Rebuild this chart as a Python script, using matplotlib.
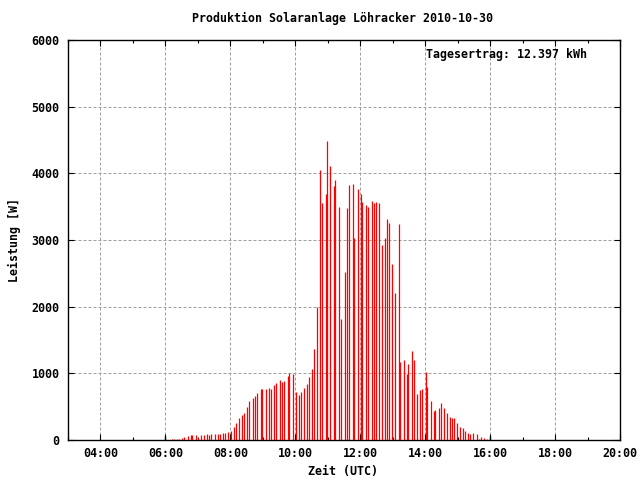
import matplotlib
matplotlib.use('Agg')
import matplotlib.pyplot as plt
from matplotlib.ticker import MultipleLocator, FuncFormatter

# Leistungsmessungen (Uhrzeit UTC, Leistung in W)
zeiten = [
    "06:12", "06:15", "06:21", "06:26", "06:30", "06:35", "06:41", "06:47", "06:50", "06:56",
    "07:01", "07:05", "07:11", "07:16", "07:20", "07:25", "07:31", "07:37", "07:40", "07:46",
    "07:50", "07:55", "08:01", "08:06", "08:10", "08:16", "08:21", "08:26", "08:30", "08:35",
    "08:41", "08:45", "08:50", "08:56", "08:59", "09:05", "09:11", "09:16", "09:20", "09:25",
    "09:31", "09:35", "09:40", "09:46", "09:49", "09:55", "10:01", "10:06", "10:10", "10:16",
    "10:21", "10:25", "10:30", "10:35", "10:40", "10:45", "10:50", "10:56", "10:59", "11:05",
    "11:11", "11:14", "11:20", "11:25", "11:31", "11:35", "11:40", "11:46", "11:49", "11:55",
    "12:01", "12:04", "12:10", "12:15", "12:21", "12:25", "12:30", "12:35", "12:40", "12:45",
    "12:50", "12:54", "12:59", "13:05", "13:11", "13:14", "13:20", "13:26", "13:29", "13:35",
    "13:40", "13:44", "13:50", "13:55", "14:01", "14:04", "14:10", "14:16", "14:19", "14:25",
    "14:30", "14:34", "14:40", "14:45", "14:50", "14:54", "14:59", "15:05", "15:09", "15:14",
    "15:20", "15:23", "15:29", "15:35", "15:40", "15:44", "15:49", "15:55",
]
leistung = [
    15, 15, 15, 15, 30, 45, 60, 75, 75, 75,
    30, 75, 75, 90, 75, 90, 90, 90, 90, 105,
    105, 120, 135, 195, 255, 330, 375, 405, 495, 585,
    630, 660, 705, 765, 765, 765, 780, 765, 825, 855,
    900, 870, 885, 960, 1005, 990, 720, 675, 720, 780,
    840, 945, 1065, 1365, 1995, 4050, 3555, 3690, 4485, 4110,
    3810, 3900, 3495, 1815, 2520, 3480, 3825, 3840, 3030, 3765,
    3690, 3570, 3525, 3495, 3585, 3555, 3570, 3555, 2925, 3030,
    3315, 3255, 2640, 2205, 3240, 1170, 1200, 990, 1140, 1335,
    1200, 690, 750, 765, 1020, 795, 585, 435, 450, 480,
    555, 480, 405, 345, 330, 330, 255, 195, 180, 135,
    105, 90, 105, 90, 15, 45, 30, 15,
]
# Markierungen Beginn / Ende
marker_zeiten = ["06:00", "16:00"]
marker_werte = [60, 60]

titel = "Produktion Solaranlage Löhracker 2010-10-30"
ertrag = "Tagesertrag: 12.397 kWh"


def in_stunden(t):
    h, m = t.split(":")
    return int(h) + int(m) / 60.0


x = [in_stunden(t) for t in zeiten]
xm = [in_stunden(t) for t in marker_zeiten]

font = {'family': 'DejaVu Sans Mono', 'weight': 'bold', 'size': 8.4}
plt.rcParams['font.family'] = 'DejaVu Sans Mono'
plt.rcParams['font.weight'] = 'bold'
plt.rcParams['font.size'] = 8.4

fig = plt.figure(figsize=(6.4, 4.8), dpi=100, facecolor='white')
ax = fig.add_axes([68 / 640, 40 / 480, 552 / 640, 400 / 480])

ax.vlines(x, 0, leistung, color='#ff0000', linewidth=0.9, zorder=3)
ax.vlines(xm, 0, marker_werte, color='black', linewidth=1.0, zorder=3)

ax.set_xlim(3, 20)
ax.set_ylim(0, 6000)

ax.xaxis.set_major_locator(MultipleLocator(2))
ax.xaxis.set_minor_locator(MultipleLocator(1))
ax.yaxis.set_major_locator(MultipleLocator(1000))
ax.xaxis.set_major_formatter(FuncFormatter(lambda v, p: "" if v < 4 else "%02d:00" % int(round(v))))
ax.yaxis.set_major_formatter(FuncFormatter(lambda v, p: "%d" % v))

ax.tick_params(which='both', direction='in', top=True, right=True, width=0.8)
ax.tick_params(which='major', length=4.5)
ax.tick_params(which='minor', length=2.5)
ax.tick_params(axis='x', pad=5)
ax.tick_params(axis='y', pad=6)

ax.grid(True, which='major', color='#a0a0a0', linestyle=(0, (3, 2)), linewidth=0.72)
ax.set_axisbelow(True)
for s in ax.spines.values():
    s.set_linewidth(1.0)
    s.set_color('black')

fig.text(343 / 640, 1 - 18 / 480, titel, ha='center', va='center', **font)
fig.text(343 / 640, 1 - 472 / 480, "Zeit (UTC)", ha='center', va='center', **font)
fig.text(14 / 640, 1 - 240 / 480, "Leistung [W]", ha='center', va='center', rotation=90, **font)
ax.text(0.94, 0.9625, ertrag, transform=ax.transAxes, ha='right', va='center', **font)

fig.savefig('out.png', dpi=100, facecolor='white')
